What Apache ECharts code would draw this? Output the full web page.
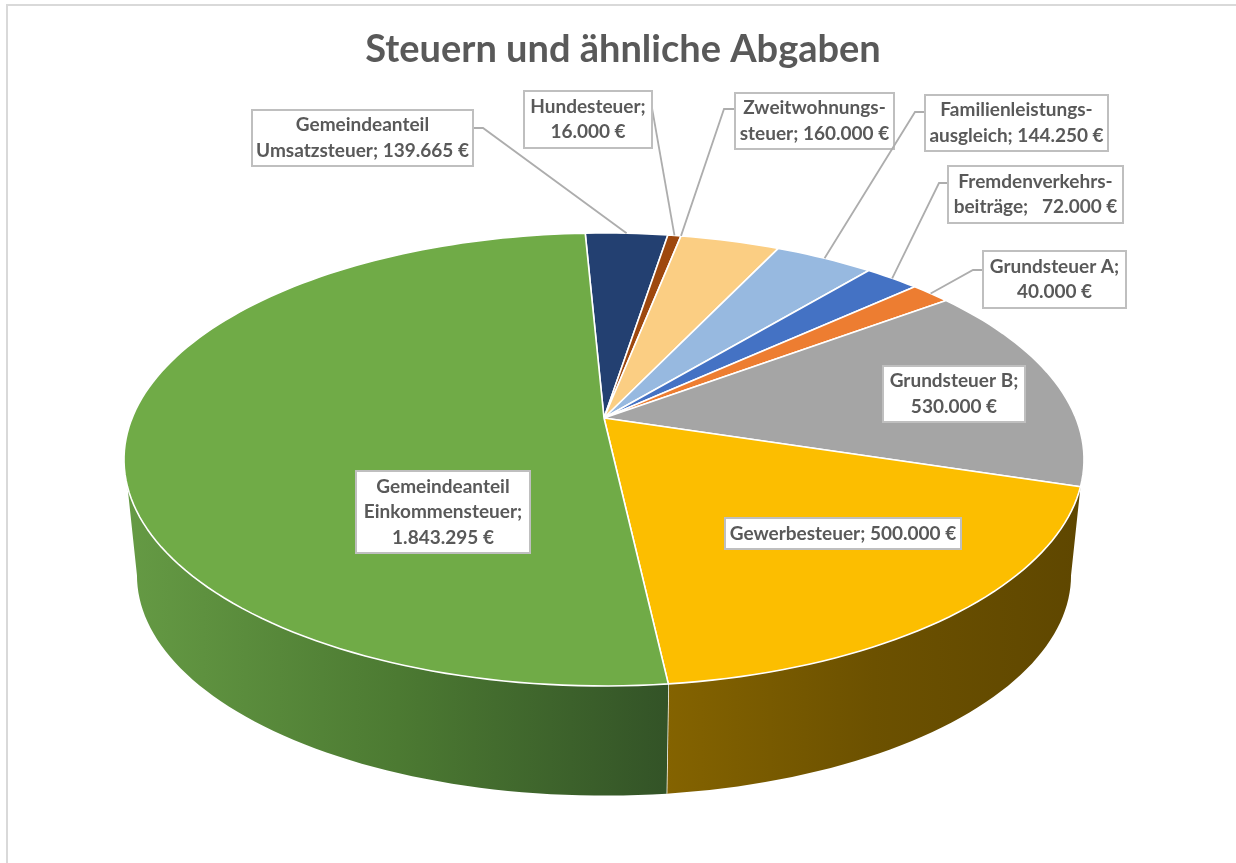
<!DOCTYPE html>
<html>
<head>
<meta charset="utf-8">
<title>Steuern und ähnliche Abgaben</title>
<script src="https://cdn.jsdelivr.net/npm/echarts@6/dist/echarts.min.js"></script>
<style>
  html, body { margin: 0; padding: 0; background: #fff; }
  #chart { width: 1236px; height: 863px; }
</style>
</head>
<body>
<div id="chart"></div>
<script>
// clockwise from the top of the pie
const names = ['Gemeindeanteil\nUmsatzsteuer', 'Hundesteuer', 'Zweitwohnungs-\nsteuer', 'Familienleistungs-\nausgleich',
  'Fremdenverkehrs-\nbeiträge', 'Grundsteuer A', 'Grundsteuer B', 'Gewerbesteuer', 'Gemeindeanteil\nEinkommensteuer']
const amounts = [139665, 16000, 160000, 144250, 72000, 40000, 530000, 500000, 1843295]
// the drawn slices are not quite proportional to the printed amounts, so the sweeps are read off the picture
const sweepDeg = [11.9, 1.9, 14.4, 14.3, 7.9, 5.8, 53.8, 66.3, 183.7]
const startDeg = -2.7

const separators = ['; ', ';\n', '; ', '; ', ';   ', ';\n', ';\n', '; ', ';\n']
const colors = ['#234071', '#9E480E', '#FBCE83', '#97B9E0', '#4472C4', '#ED7D31', '#A5A5A5', '#FCBE00', '#70AB47']
const wallStops = {
  7: ['#846300', '#6C5100', '#5F4700'],
  8: ['#659A44', '#4C7A32', '#335327'],
}

// label boxes [left, top, right, bottom], leader start + elbow, and where along the slice the leader lands
const boxes = [[252, 110, 473, 166], [524, 91, 652, 148], [735, 93, 894, 149], [925, 95, 1108, 151],
  [948, 166, 1123, 223], [983, 251, 1126, 308], [883, 366, 1025, 422], [725, 518, 961, 549], [356, 471, 530, 553]]
const leaders = [[[473, 128], [483, 128]], [[652, 108]], [[735, 109], [724, 109]], [[925, 112], [915, 112]],
  [[948, 183], [939, 183]], [[983, 270], [973, 270]], null, null, null]
const leaderAt = [0.5, 0.5, 0, 0.5, 0.5, 0.5, 0.5, 0.5, 0.5]

// perspective of the disc
const tilt = 0.1832
const lowerScale = 0.973
const lowerShift = 0.534
const wallRange = [107.3, 252.7]
const silhouette = [100.55, 259.45]

const project = (deg, lower) => {
  const a = deg * Math.PI / 180
  const u = Math.sin(a), v = -Math.cos(a)
  const w = 1 - tilt * v
  const x = u * Math.sqrt(1 - tilt * tilt) / w
  const y = v / w
  return lower ? [x * lowerScale, y * lowerScale + lowerShift] : [x, y]
}

const arc = (api, from, to, lower) => {
  const n = Math.max(2, Math.ceil(Math.abs(to - from) / 1.5))
  const pts = []
  for (let i = 0; i <= n; i++) {
    pts.push(api.coord(project(from + (to - from) * i / n, lower)))
  }
  return pts
}

let acc = startDeg
const sliceRows = sweepDeg.map((s) => {
  const row = [acc, acc + s]
  acc += s
  return row
})

const euro = (v) => v.toLocaleString('de-DE') + ' €'
const labelTexts = names.map((n, i) => n + separators[i] + euro(amounts[i]))

const renderWall = (params, api) => {
  const i = params.dataIndex
  const a = Math.max(api.value(0), wallRange[0])
  const b = Math.min(api.value(1), wallRange[1])
  if (!wallStops[i] || a >= b) return null
  const lowA = a <= wallRange[0] + 0.01 ? silhouette[0] : a
  const lowB = b >= wallRange[1] - 0.01 ? silhouette[1] : b
  const pts = arc(api, a, b, false).concat(arc(api, lowB, lowA, true))
  const stops = wallStops[i]
  const children = [{
    type: 'polygon',
    shape: { points: pts },
    style: {
      fill: {
        type: 'linear', x: 0, y: 0, x2: 1, y2: 0,
        colorStops: [{ offset: 0, color: stops[0] }, { offset: 0.5, color: stops[1] }, { offset: 1, color: stops[2] }],
      },
    },
  }]
  if (i === 7) {
    const p0 = api.coord(project(b, false)), p1 = api.coord(project(b, true))
    children.push({
      type: 'line',
      shape: { x1: p0[0], y1: p0[1], x2: p1[0], y2: p1[1] },
      style: { stroke: '#fff', lineWidth: 1.5 },
    })
  }
  return { type: 'group', children }
}

const renderSlice = (params, api) => {
  const pts = [api.coord([0, 0])].concat(arc(api, api.value(0), api.value(1), false))
  return {
    type: 'polygon',
    shape: { points: pts },
    style: { fill: colors[params.dataIndex], stroke: '#fff', lineWidth: 1.6, lineJoin: 'round' },
  }
}

const renderLabel = (params, api) => {
  const i = params.dataIndex
  const box = boxes[i]
  const children = []
  if (leaders[i]) {
    const from = api.value(0), to = api.value(1)
    const end = api.coord(project(from + (to - from) * leaderAt[i], false))
    children.push({
      type: 'polyline',
      shape: { points: leaders[i].concat([end]) },
      style: { stroke: '#ADADAD', lineWidth: 1.8, fill: null },
    })
  }
  children.push({
    type: 'rect',
    shape: { x: box[0], y: box[1], width: box[2] - box[0], height: box[3] - box[1] },
    style: { fill: '#fff', stroke: '#BFBFBF', lineWidth: 2 },
  })
  children.push({
    type: 'text',
    style: {
      x: (box[0] + box[2]) / 2,
      y: (box[1] + box[3]) / 2,
      text: labelTexts[i],
      align: 'center',
      verticalAlign: 'middle',
      fontFamily: 'Lato',
      fontWeight: 'bold',
      fontSize: 19,
      lineHeight: 25.5,
      fill: '#595959',
    },
  })
  return { type: 'group', children }
}

const myChart = echarts.init(document.getElementById('chart'), null, { renderer: 'canvas' })
const custom = (renderItem) => ({
  type: 'custom',
  coordinateSystem: 'cartesian2d',
  silent: true,
  clip: false,
  renderItem,
  data: sliceRows,
})
myChart.setOption({
  animation: false,
  backgroundColor: '#fff',
  title: {
    text: 'Steuern und ähnliche Abgaben',
    left: 618,
    top: 26,
    textAlign: 'center',
    textStyle: { color: '#595959', fontFamily: 'Lato', fontWeight: 'bold', fontSize: 38 },
  },
  graphic: [{
    type: 'rect',
    silent: true,
    shape: { x: 7, y: 5, width: 1400, height: 1000 },
    style: { fill: null, stroke: '#D9D9D9', lineWidth: 2 },
  }],
  grid: { left: 124, top: 233, width: 960, height: 563 },
  xAxis: { type: 'value', min: -1, max: 1, show: false },
  yAxis: { type: 'value', min: -0.845, max: 1.727, inverse: true, show: false },
  series: [custom(renderWall), custom(renderSlice), custom(renderLabel)],
})
</script>
</body>
</html>
